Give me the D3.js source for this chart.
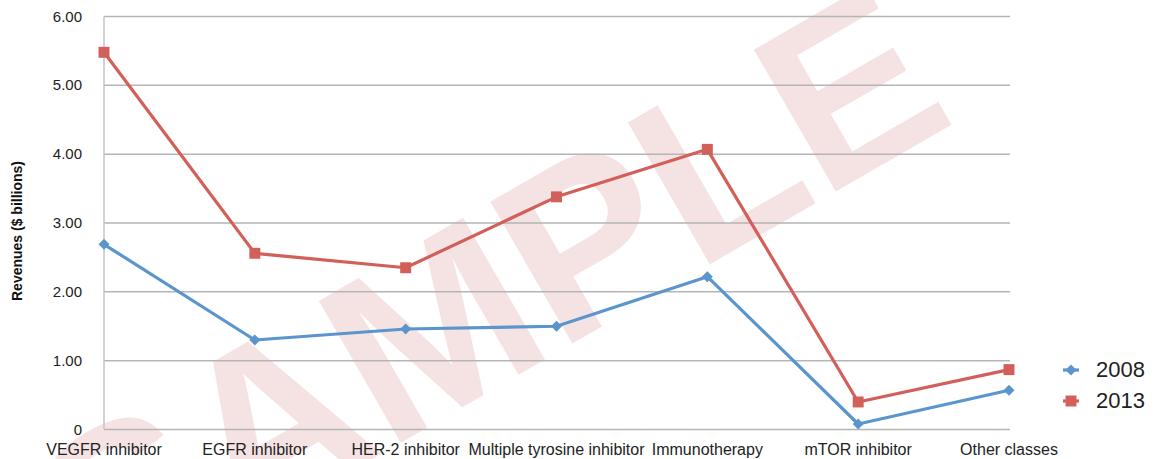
<!DOCTYPE html>
<html>
<head>
    <meta charset="utf-8">
    <style>
        body { margin: 0; background: #fff; }
        text { font-family: "Liberation Sans", Arial, sans-serif; }
    </style>
</head>
<body>
    <svg width="1160" height="459"></svg>
    <script src="https://d3js.org/d3.v7.min.js"></script>
    <script>
        let categories = ["VEGFR inhibitor", "EGFR inhibitor", "HER-2 inhibitor", "Multiple tyrosine inhibitor",
                          "Immunotherapy", "mTOR inhibitor", "Other classes"];
        let values2008 = [2.69, 1.30, 1.46, 1.50, 2.22, 0.08, 0.57];
        let values2013 = [5.48, 2.56, 2.35, 3.38, 4.07, 0.40, 0.87];
        let yTicks = [0, 1, 2, 3, 4, 5, 6];
        let seriesNames = ["2008", "2013"];

        let svg = d3.select("svg");
        let plotLeft = 104, plotRight = 1009, plotTop = 16.5, plotBottom = 429.5;

        let x = d3.scalePoint().domain(categories).range([plotLeft, plotRight]);
        let y = d3.scaleLinear().domain([0, 6]).range([plotBottom, plotTop]);

        // watermark
        svg.append("text")
            .attr("transform", "translate(530,368) rotate(-30)")
            .attr("text-anchor", "middle")
            .style("font-size", "238px")
            .style("font-weight", "bold")
            .attr("fill", "#f5e3e4")
            .text("SAMPLE");

        // grid
        svg.append("g").selectAll("line")
            .data(yTicks)
            .enter().append("line")
            .attr("x1", plotLeft).attr("x2", plotRight + 1)
            .attr("y1", d => y(d)).attr("y2", d => y(d))
            .attr("stroke", "#b5b5b5")
            .attr("stroke-width", 1.5);
        svg.append("line")
            .attr("x1", plotLeft).attr("x2", plotLeft)
            .attr("y1", plotTop).attr("y2", plotBottom)
            .attr("stroke", "#c4c4c4")
            .attr("stroke-width", 1.5);

        // y tick labels
        svg.append("g").selectAll("text")
            .data(yTicks)
            .enter().append("text")
            .attr("x", 82)
            .attr("y", d => y(d) + 5)
            .attr("text-anchor", "end")
            .style("font-size", "15px")
            .attr("fill", "#222")
            .text(d => d === 0 ? "0" : d3.format(".2f")(d));

        // x labels
        svg.append("g").selectAll("text")
            .data(categories)
            .enter().append("text")
            .attr("x", d => x(d))
            .attr("y", 455)
            .attr("text-anchor", "middle")
            .style("font-size", "16px")
            .attr("fill", "#222")
            .text(d => d);

        svg.append("text")
            .attr("transform", "translate(22,231) rotate(-90)")
            .attr("text-anchor", "middle")
            .style("font-size", "14px")
            .style("font-weight", "bold")
            .attr("fill", "#111")
            .text("Revenues ($ billions)");

        let line = d3.line()
            .x((d, i) => x(categories[i]))
            .y(d => y(d));

        let colors = ["#5b95cd", "#d35f5a"];
        // diamond = square turned 45 degrees
        let diamond = d3.symbol().type(d3.symbolSquare).size(60);
        let square = d3.symbol().type(d3.symbolSquare).size(120);

        function markerTransform(px, py, k) {
            return "translate(" + px + "," + py + ")" + (k === 0 ? " rotate(45)" : "");
        }

        [values2008, values2013].forEach(function(vals, k) {
            svg.append("path")
                .attr("d", line(vals))
                .attr("fill", "none")
                .attr("stroke", colors[k])
                .attr("stroke-width", 3.2)
                .attr("stroke-linejoin", "round");
            svg.append("g").selectAll("path")
                .data(vals)
                .enter().append("path")
                .attr("transform", (d, i) => markerTransform(x(categories[i]), y(d), k))
                .attr("d", k === 0 ? diamond() : square())
                .attr("fill", colors[k]);
        });

        // legend
        let legend = svg.append("g");
        seriesNames.forEach(function(name, k) {
            let ly = 370 + k * 31;
            legend.append("line")
                .attr("x1", 1063).attr("x2", 1079)
                .attr("y1", ly).attr("y2", ly)
                .attr("stroke", colors[k])
                .attr("stroke-width", 3.2);
            legend.append("path")
                .attr("transform", markerTransform(1071, ly, k))
                .attr("d", k === 0 ? diamond() : square())
                .attr("fill", colors[k]);
            legend.append("text")
                .attr("x", 1096)
                .attr("y", ly + 7)
                .style("font-size", "22px")
                .attr("fill", "#222")
                .text(name);
        });
    </script>
</body>
</html>
